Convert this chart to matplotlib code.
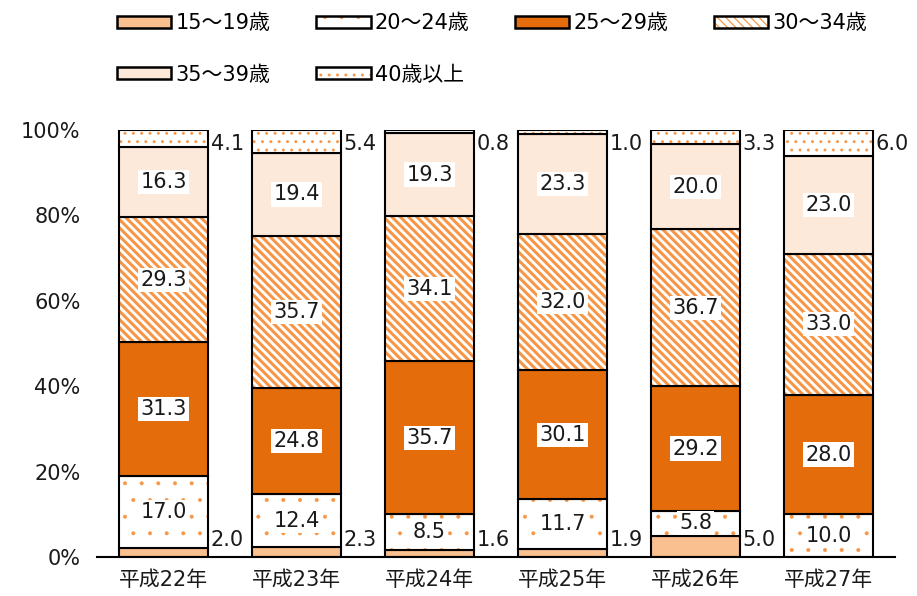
"""Stacked percentage bars by age group"""

import matplotlib.pyplot as plt
import matplotlib.patches as mpatches
import numpy as np

plt.rcParams['font.family'] = ['DejaVu Sans', 'Noto Sans CJK JP']

years = ["平成22年", "平成23年", "平成24年", "平成25年", "平成26年", "平成27年"]
groups = ["15～19歳", "20～24歳", "25～29歳", "30～34歳", "35～39歳", "40歳以上"]

age_15_19 = [2.0, 2.3, 1.6, 1.9, 5.0, 0.0]
age_20_24 = [17.0, 12.4, 8.5, 11.7, 5.8, 10.0]
age_25_29 = [31.3, 24.8, 35.7, 30.1, 29.2, 28.0]
age_30_34 = [29.3, 35.7, 34.1, 32.0, 36.7, 33.0]
age_35_39 = [16.3, 19.4, 19.3, 23.3, 20.0, 23.0]
age_40_up = [4.1, 5.4, 0.8, 1.0, 3.3, 6.0]

series = [age_15_19, age_20_24, age_25_29, age_30_34, age_35_39, age_40_up]

#fill colour, hatch and hatch line width for each group
fills = ["#FAC090", "white", "#E46C0A", "white", "#FDE9D9", "white"]
hatches = [None, ".", None, "\\\\\\\\", None, ".."]
hatch_lw = [1.0, 0.4, 1.0, 2.2, 1.0, 0.9]
hatch_col = "#F79646"
text_col = "#1a1a1a"

fig = plt.figure(figsize=(9.17, 5.96), dpi=100)
ax = fig.add_axes([0.106, 0.0654, 0.87, 0.7166])

x = np.arange(len(years))
width = 0.67
bottom = np.zeros(len(years))
handles = []

for vals, fc, h, hlw in zip(series, fills, hatches, hatch_lw):
    vals = np.array(vals)
    plt.rcParams['hatch.linewidth'] = hlw
    #first pass draws the fill and the orange hatch, second the black outline
    ax.bar(x, vals, width, bottom=bottom, color=fc, hatch=h,
           edgecolor=hatch_col, linewidth=0)
    ax.bar(x, vals, width, bottom=bottom, facecolor="none",
           edgecolor="black", linewidth=1.5)
    bottom += vals
    fill_patch = mpatches.Patch(facecolor=fc, hatch=h, edgecolor=hatch_col, linewidth=0)
    line_patch = mpatches.Patch(facecolor="none", edgecolor="black", linewidth=1.8)
    handles.append((fill_patch, line_patch))

#value labels
bottom = np.zeros(len(years))
for i, vals in enumerate(series):
    for j, v in enumerate(vals):
        if i == 0:
            if v > 0:
                ax.text(j + width / 2 + 0.02, 4, "%.1f" % v, ha="left",
                        va="center", fontsize=15, color=text_col)
        elif i == 5:
            ax.text(j + width / 2 + 0.02, 96.8, "%.1f" % v, ha="left",
                    va="center", fontsize=15, color=text_col)
        else:
            ax.text(j, bottom[j] + v / 2, "%.1f" % v, ha="center",
                    va="center", fontsize=15, color=text_col,
                    bbox=dict(facecolor="white", edgecolor="none", pad=1.5))
    bottom += np.array(vals)

ax.set_xlim(-0.5, 5.5)
ax.set_ylim(0, 100)
ax.set_xticks(x)
ax.set_xticklabels(years, fontsize=15, color=text_col)
ax.set_yticks(range(0, 101, 20))
ax.set_yticklabels(["%d%%" % t for t in range(0, 101, 20)], fontsize=15, color=text_col)
ax.tick_params(axis="x", length=0, pad=9)
ax.tick_params(axis="y", length=0, pad=12)
for side in ["left", "right", "top"]:
    ax.spines[side].set_visible(False)
ax.spines["bottom"].set_linewidth(1.5)

#legend is filled column by column, so reorder to read across rows
order = [0, 4, 1, 5, 2, 3]
fig.legend([handles[k] for k in order], [groups[k] for k in order],
           loc="upper left", bbox_to_anchor=(0.12, 0.99), borderpad=0.15,
           borderaxespad=0.2, ncol=4, frameon=False, fontsize=15,
           handlelength=2.6, handleheight=0.55, handletextpad=0.2,
           columnspacing=2.2, labelspacing=1.5)

plt.savefig("out.png", dpi=100)
